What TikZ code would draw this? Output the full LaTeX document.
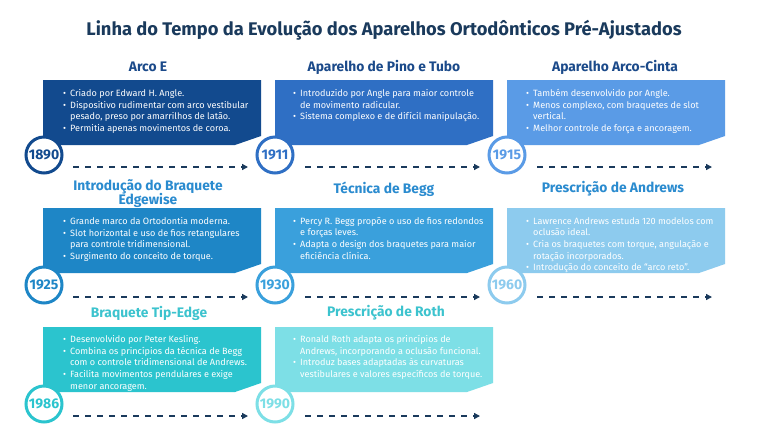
\documentclass[tikz,border=0pt]{standalone}
\usepackage{fontspec}
\setmainfont{Fira Sans}
\usetikzlibrary{arrows.meta}
\definecolor{navy}{HTML}{1A3A5C}
\definecolor{hdA}{HTML}{1B4A8A}
\definecolor{hdB}{HTML}{2A8BCF}
\definecolor{hdC}{HTML}{3CC3CE}
\definecolor{cAa}{HTML}{124A8E}
\definecolor{cAb}{HTML}{2F6FC4}
\definecolor{cAc}{HTML}{5A9BE6}
\definecolor{cBa}{HTML}{1E86C6}
\definecolor{cBb}{HTML}{3AA0DC}
\definecolor{cBc}{HTML}{8DCBEE}
\definecolor{cCa}{HTML}{2BC4CE}
\definecolor{cCb}{HTML}{7DDFE6}
\newcommand\bul{\makebox[7pt][l]{\textbullet}}
\newcommand\cnt{\hspace*{7pt}}
\newcommand\cardshape[3]{\fill[#3] (#1,#2) -- ++(218,0) -- ++(0,56) -- ++(-26,9) -- ++(-192,0) -- cycle;}
\tikzset{
  yearring/.style={circle, draw=#1, text=#1, line width=3pt, fill=white, minimum size=36pt, inner sep=0pt, font=\bfseries\fontsize{14}{14}\selectfont},
  flow/.style={navy, line width=1.4pt, dash pattern=on 6pt off 6pt, -{Triangle[length=6pt,width=6pt]}},
  head/.style={font=\bfseries\fontsize{13.8}{14.5}\selectfont, align=center},
  body/.style={anchor=north west, inner sep=0pt, align=left, text=white, font=\fontsize{9.1}{11.7}\selectfont},
}
\begin{document}
\begin{tikzpicture}[x=1pt,y=-1pt]
\useasboundingbox (0,0) rectangle (768,432);
\fill[white] (0,0) rectangle (768,432);
\node[font=\bfseries\fontsize{18.3}{19}\selectfont, text=navy] (title) at (384,30) {Linha do Tempo da Evolução dos Aparelhos Ortodônticos Pré-Ajustados};

% headings
\node[head, text=hdA] (h1) at (148,67) {Arco E};
\node[head, text=hdA] (h2) at (384,67) {Aparelho de Pino e Tubo};
\node[head, text=hdA] (h3) at (615,67) {Aparelho Arco-Cinta};
\node[head, text=hdB] (h4) at (148,193.5) {Introdução do Braquete\\[-2.5pt]Edgewise};
\node[head, text=hdB] (h5) at (384,189) {Técnica de Begg};
\node[head, text=hdB] (h6) at (613,189) {Prescrição de Andrews};
\node[head, text=hdC] (h7) at (149,313) {Braquete Tip-Edge};
\node[head, text=hdC] (h8) at (386,313) {Prescrição de Roth};

% cards
\cardshape{43}{80}{cAa}
\cardshape{275}{80}{cAb}
\cardshape{507}{80}{cAc}
\cardshape{43}{208}{cBa}
\cardshape{275}{208}{cBb}
\cardshape{507}{208}{cBc}
\cardshape{43}{327}{cCa}
\cardshape{275}{327}{cCb}

% texts
\node[body] (t1) at (63,89) {\bul Criado por Edward H. Angle.\\\bul Dispositivo rudimentar com arco vestibular\\\cnt pesado, preso por amarrilhos de latão.\\\bul Permitia apenas movimentos de coroa.};
\node[body] (t2) at (293,89) {\bul Introduzido por Angle para maior controle\\\cnt de movimento radicular.\\\bul Sistema complexo e de difícil manipulação.};
\node[body] (t3) at (526,89) {\bul Também desenvolvido por Angle.\\\bul Menos complexo, com braquetes de slot\\\cnt vertical.\\\bul Melhor controle de força e ancoragem.};
\node[body] (t4) at (63,217) {\bul Grande marco da Ortodontia moderna.\\\bul Slot horizontal e uso de fios retangulares\\\cnt para controle tridimensional.\\\bul Surgimento do conceito de torque.};
\node[body] (t5) at (293,217) {\bul Percy R. Begg propõe o uso de fios redondos\\\cnt e forças leves.\\\bul Adapta o design dos braquetes para maior\\\cnt eficiência clínica.};
\node[body] (t6) at (526,217) {\bul Lawrence Andrews estuda 120 modelos com\\\cnt oclusão ideal.\\\bul Cria os braquetes com torque, angulação e\\\cnt rotação incorporados.\\\bul Introdução do conceito de “arco reto”.};
\node[body] (t7) at (63,335) {\bul Desenvolvido por Peter Kesling.\\\bul Combina os princípios da técnica de Begg\\\cnt com o controle tridimensional de Andrews.\\\bul Facilita movimentos pendulares e exige\\\cnt menor ancoragem.};
\node[body] (t8) at (293,335) {\bul Ronald Roth adapta os princípios de\\\cnt Andrews, incorporando a oclusão funcional.\\\bul Introduz bases adaptadas às curvaturas\\\cnt vestibulares e valores específicos de torque.};

% year rings
\node[yearring=cAa] (y1) at (44,155) {1890};
\node[yearring=cAb] (y2) at (275,155) {1911};
\node[yearring=cAc] (y3) at (507,155) {1915};
\node[yearring=cBa] (y4) at (44,285) {1925};
\node[yearring=cBb] (y5) at (275,285) {1930};
\node[yearring=cBc] (y6) at (507,285) {1960};
\node[yearring=cCa] (y7) at (44,404) {1986};
\node[yearring=cCb] (y8) at (275,404) {1990};

% arrows
\foreach \n/\x/\y in {1/73/167, 2/305/167, 3/537/167, 4/73/297, 5/305/297, 6/537/297, 7/73/416, 8/305/416}{
  \coordinate (s\n) at (\x,\y);
  \coordinate (e\n) at (\x+175,\y);
  \draw[flow] (s\n) -- (e\n);
}
\end{tikzpicture}
\end{document}
